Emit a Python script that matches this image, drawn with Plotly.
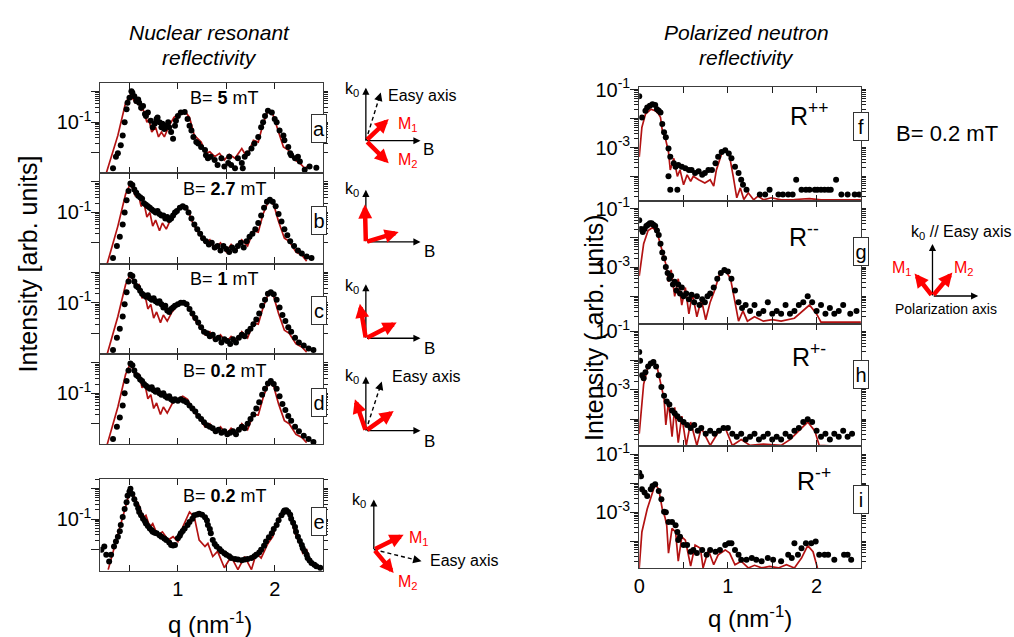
import numpy as np
import plotly.graph_objects as go

W, H = 1014, 637
RED = "#b31212"
AXC = "#3c3c3c"
TICKC = "#1e1e1e"
FONT = "Liberation Sans, Arial, sans-serif"

# ---------------- data: q (nm^-1) and log10 of intensity ----------------
# Nuclear resonant reflectivity
a_q = [0.33, 0.36, 0.38, 0.41, 0.43, 0.45, 0.47, 0.48, 0.50, 0.52, 0.53, 0.55, 0.57, 0.59, 0.60, 0.62, 0.64,
       0.66, 0.67, 0.69, 0.72, 0.74, 0.76, 0.78, 0.79, 0.81, 0.83, 0.84, 0.86, 0.88, 0.90, 0.91, 0.93, 0.95,
       0.97, 0.98, 1.00, 1.03, 1.07, 1.10, 1.12, 1.14, 1.16, 1.19, 1.21, 1.24, 1.28, 1.29, 1.31, 1.34, 1.38,
       1.41, 1.45, 1.48, 1.52, 1.53, 1.55, 1.59, 1.62, 1.66, 1.67, 1.69, 1.72, 1.76, 1.79, 1.83, 1.86, 1.88,
       1.90, 1.93, 1.97, 2.00, 2.02, 2.05, 2.09, 2.10, 2.14, 2.16, 2.17, 2.21, 2.24, 2.26, 2.31, 2.36, 2.43]
a_logI = [-2.52, -2.14, -2.03, -1.76, -1.44, -1.01, -0.58, -0.37, -0.20, 0.01, -0.04, -0.15, -0.31, -0.26,
          -0.37, -0.53, -0.47, -0.74, -0.80, -0.69, -0.96, -1.17, -1.06, -0.90, -0.85, -1.01, -1.17, -1.06,
          -1.23, -1.12, -1.01, -1.17, -1.33, -1.55, -1.12, -0.96, -0.80, -0.69, -0.67, -0.90, -1.12, -1.28,
          -1.49, -1.66, -1.71, -1.82, -1.92, -2.09, -2.19, -2.14, -2.25, -2.41, -2.19, -2.46, -2.35, -2.14,
          -2.41, -2.52, -2.19, -2.35, -2.52, -2.14, -2.03, -1.87, -1.71, -1.49, -1.17, -1.01, -0.80, -0.63,
          -0.69, -0.90, -1.01, -1.28, -1.44, -1.60, -1.82, -2.03, -2.09, -2.19, -2.14, -2.30, -2.57, -2.46, -2.50]
a_fit_q = [0.26, 0.38, 0.46, 0.51, 0.56, 0.59, 0.62, 0.64, 0.68, 0.70, 0.73, 0.77, 0.80, 0.83, 0.86, 0.91,
           0.96, 1.00, 1.07, 1.12, 1.17, 1.24, 1.29, 1.33, 1.38, 1.43, 1.48, 1.53, 1.59, 1.66, 1.71, 1.78,
           1.83, 1.88, 1.93, 1.98, 2.03, 2.09, 2.14, 2.21, 2.26, 2.31, 2.34]
a_fit_logI = [-2.68, -1.44, -0.37, -0.10, -0.37, -0.31, -0.63, -0.56, -1.01, -0.90, -1.33, -1.17, -1.49,
              -1.33, -1.49, -1.12, -0.85, -0.75, -0.63, -0.85, -1.44, -1.66, -2.03, -1.98, -2.14, -2.03,
              -2.25, -2.06, -2.19, -1.87, -2.14, -1.60, -1.66, -1.06, -0.63, -0.74, -1.23, -1.82, -1.92,
              -2.25, -2.35, -2.52, -2.46]

b_q = [0.33, 0.37, 0.40, 0.43, 0.45, 0.47, 0.49, 0.51, 0.53, 0.55, 0.57, 0.59, 0.61, 0.63, 0.65, 0.67, 0.69,
       0.71, 0.73, 0.75, 0.77, 0.79, 0.81, 0.83, 0.85, 0.87, 0.89, 0.91, 0.93, 0.95, 0.97, 0.99, 1.02, 1.05,
       1.08, 1.11, 1.14, 1.17, 1.20, 1.23, 1.26, 1.29, 1.32, 1.35, 1.38, 1.41, 1.44, 1.47, 1.50, 1.53, 1.56,
       1.59, 1.62, 1.65, 1.68, 1.71, 1.74, 1.77, 1.80, 1.83, 1.86, 1.89, 1.92, 1.95, 1.98, 2.01, 2.04, 2.07,
       2.10, 2.13, 2.16, 2.20, 2.24, 2.28, 2.33, 2.38]
b_logI = [-2.50, -2.10, -1.80, -1.40, -1.00, -0.60, -0.30, -0.05, -0.10, -0.25, -0.35, -0.45, -0.50, -0.55,
          -0.70, -0.75, -0.80, -0.85, -0.90, -0.95, -1.00, -0.95, -1.05, -1.10, -1.10, -1.20, -1.15, -1.25,
          -1.20, -1.10, -1.00, -0.95, -0.85, -0.80, -0.85, -1.00, -1.20, -1.40, -1.55, -1.70, -1.85, -1.95,
          -2.05, -2.00, -2.15, -2.10, -2.25, -2.10, -2.20, -2.30, -2.15, -2.25, -2.10, -2.00, -2.15, -1.95,
          -1.80, -1.70, -1.55, -1.35, -1.10, -0.85, -0.65, -0.58, -0.65, -0.80, -1.05, -1.30, -1.55, -1.75,
          -1.95, -2.10, -2.25, -2.35, -2.45, -2.50]
b_fit_q = [0.27, 0.38, 0.46, 0.51, 0.56, 0.59, 0.62, 0.65, 0.68, 0.71, 0.74, 0.77, 0.81, 0.84, 0.88, 0.93,
           0.98, 1.05, 1.10, 1.16, 1.22, 1.28, 1.33, 1.38, 1.44, 1.50, 1.55, 1.60, 1.66, 1.72, 1.78, 1.83,
           1.88, 1.94, 1.99, 2.04, 2.10, 2.15, 2.22, 2.28, 2.33]
b_fit_logI = [-2.68, -1.45, -0.40, -0.05, -0.45, -0.38, -0.80, -0.70, -1.15, -1.00, -1.45, -1.25, -1.60,
              -1.35, -1.55, -1.20, -0.95, -0.78, -0.90, -1.40, -1.70, -2.00, -1.90, -2.20, -2.00, -2.30,
              -2.05, -2.25, -1.90, -2.10, -1.60, -1.65, -1.05, -0.60, -0.75, -1.30, -1.85, -1.95, -2.30,
              -2.40, -2.60]

c_q = [0.33, 0.37, 0.40, 0.43, 0.45, 0.47, 0.49, 0.51, 0.53, 0.55, 0.57, 0.59, 0.61, 0.63, 0.65, 0.67, 0.69,
       0.71, 0.73, 0.75, 0.77, 0.79, 0.81, 0.83, 0.85, 0.87, 0.89, 0.91, 0.93, 0.95, 0.97, 1.00, 1.03, 1.06,
       1.09, 1.12, 1.15, 1.18, 1.21, 1.24, 1.27, 1.30, 1.33, 1.36, 1.39, 1.42, 1.45, 1.48, 1.51, 1.54, 1.57,
       1.60, 1.63, 1.66, 1.69, 1.72, 1.75, 1.78, 1.81, 1.84, 1.87, 1.90, 1.93, 1.96, 1.99, 2.02, 2.05, 2.08,
       2.11, 2.14, 2.17, 2.21, 2.25, 2.30, 2.35, 2.40]
c_logI = [-2.55, -2.15, -1.85, -1.45, -1.05, -0.65, -0.30, -0.08, -0.12, -0.30, -0.45, -0.50, -0.60, -0.70,
          -0.75, -0.80, -0.75, -0.85, -0.90, -0.85, -0.95, -1.00, -0.95, -1.05, -1.15, -1.10, -1.25, -1.30,
          -1.20, -1.15, -1.10, -1.05, -1.00, -1.00, -1.05, -1.20, -1.35, -1.50, -1.65, -1.80, -1.95, -2.00,
          -2.10, -2.05, -2.20, -2.15, -2.30, -2.20, -2.25, -2.35, -2.20, -2.30, -2.15, -2.05, -2.10, -1.95,
          -1.85, -1.70, -1.55, -1.35, -1.10, -0.90, -0.70, -0.65, -0.72, -0.90, -1.15, -1.40, -1.60, -1.80,
          -1.95, -2.15, -2.30, -2.40, -2.50, -2.55]
c_fit_q = [0.27, 0.38, 0.46, 0.51, 0.56, 0.60, 0.63, 0.66, 0.69, 0.72, 0.75, 0.78, 0.82, 0.85, 0.89, 0.94,
           0.99, 1.05, 1.10, 1.16, 1.22, 1.28, 1.33, 1.38, 1.44, 1.50, 1.55, 1.61, 1.66, 1.72, 1.78, 1.83,
           1.88, 1.94, 1.99, 2.04, 2.10, 2.15, 2.22, 2.28, 2.33]
c_fit_logI = [-2.68, -1.45, -0.40, -0.06, -0.45, -0.40, -0.85, -0.75, -1.20, -1.05, -1.50, -1.30, -1.65,
              -1.40, -1.60, -1.30, -1.10, -0.95, -1.05, -1.50, -1.75, -2.05, -1.95, -2.25, -2.05, -2.30,
              -2.10, -2.25, -1.95, -2.15, -1.65, -1.70, -1.15, -0.66, -0.80, -1.35, -1.90, -2.00, -2.35,
              -2.45, -2.62]

d_q = [0.33, 0.37, 0.40, 0.43, 0.45, 0.47, 0.49, 0.51, 0.53, 0.55, 0.57, 0.59, 0.61, 0.63, 0.65, 0.67, 0.69,
       0.71, 0.73, 0.75, 0.77, 0.79, 0.81, 0.83, 0.85, 0.87, 0.89, 0.91, 0.93, 0.95, 0.97, 1.00, 1.03, 1.06,
       1.09, 1.12, 1.15, 1.18, 1.21, 1.24, 1.27, 1.30, 1.33, 1.36, 1.39, 1.42, 1.45, 1.48, 1.51, 1.54, 1.57,
       1.60, 1.63, 1.66, 1.69, 1.72, 1.75, 1.78, 1.81, 1.84, 1.87, 1.90, 1.93, 1.96, 1.99, 2.02, 2.05, 2.08,
       2.11, 2.14, 2.17, 2.21, 2.25, 2.30, 2.35, 2.40]
d_logI = [-2.50, -2.10, -1.80, -1.40, -1.00, -0.60, -0.25, -0.02, -0.08, -0.25, -0.40, -0.45, -0.55, -0.60,
          -0.70, -0.75, -0.80, -0.85, -0.80, -0.90, -0.95, -0.90, -1.00, -1.05, -1.00, -1.10, -1.15, -1.10,
          -1.20, -1.25, -1.20, -1.25, -1.20, -1.25, -1.30, -1.40, -1.50, -1.60, -1.75, -1.85, -1.95, -2.05,
          -2.10, -2.15, -2.25, -2.20, -2.30, -2.25, -2.35, -2.30, -2.25, -2.35, -2.20, -2.10, -2.15, -2.00,
          -1.85, -1.70, -1.50, -1.30, -1.05, -0.85, -0.68, -0.60, -0.70, -0.85, -1.10, -1.35, -1.55, -1.75,
          -1.90, -2.10, -2.25, -2.40, -2.50, -2.60]
d_fit_q = [0.27, 0.38, 0.46, 0.51, 0.56, 0.60, 0.63, 0.66, 0.69, 0.72, 0.75, 0.78, 0.82, 0.85, 0.89, 0.94,
           0.99, 1.05, 1.10, 1.16, 1.22, 1.28, 1.33, 1.38, 1.44, 1.50, 1.55, 1.61, 1.66, 1.72, 1.78, 1.83,
           1.88, 1.94, 1.99, 2.04, 2.10, 2.15, 2.22, 2.28, 2.33]
d_fit_logI = [-2.68, -1.45, -0.38, -0.02, -0.42, -0.38, -0.82, -0.72, -1.18, -1.05, -1.50, -1.32, -1.70,
              -1.45, -1.65, -1.35, -1.20, -1.10, -1.20, -1.60, -1.80, -2.10, -2.00, -2.30, -2.10, -2.35,
              -2.15, -2.30, -2.00, -2.20, -1.70, -1.72, -1.15, -0.62, -0.78, -1.35, -1.90, -2.00, -2.35,
              -2.45, -2.62]

e_q = [0.21, 0.24, 0.26, 0.29, 0.31, 0.34, 0.36, 0.38, 0.40, 0.41, 0.43, 0.45, 0.47, 0.48, 0.50, 0.51, 0.53,
       0.55, 0.57, 0.59, 0.60, 0.62, 0.64, 0.66, 0.67, 0.69, 0.71, 0.73, 0.74, 0.76, 0.78, 0.81, 0.83, 0.86,
       0.88, 0.91, 0.93, 0.95, 0.97, 1.00, 1.02, 1.03, 1.05, 1.07, 1.10, 1.12, 1.15, 1.17, 1.20, 1.22, 1.25,
       1.28, 1.30, 1.31, 1.33, 1.34, 1.36, 1.38, 1.40, 1.43, 1.45, 1.48, 1.50, 1.53, 1.55, 1.59, 1.62, 1.66,
       1.69, 1.72, 1.76, 1.79, 1.81, 1.84, 1.86, 1.89, 1.91, 1.94, 1.97, 1.99, 2.02, 2.04, 2.07, 2.09, 2.10,
       2.12, 2.14, 2.16, 2.17, 2.19, 2.21, 2.22, 2.24, 2.26, 2.28, 2.29, 2.31, 2.33, 2.34, 2.36, 2.38, 2.41,
       2.43, 2.47]
e_logI = [-2.01, -1.90, -2.17, -2.39, -2.17, -1.90, -1.74, -1.58, -1.40, -1.20, -0.93, -0.67, -0.45, -0.24,
          -0.10, -0.01, -0.18, -0.35, -0.51, -0.65, -0.77, -0.88, -0.99, -1.07, -1.15, -1.23, -1.31, -1.37,
          -1.42, -1.45, -1.47, -1.53, -1.58, -1.64, -1.69, -1.77, -1.85, -1.87, -1.85, -1.63, -1.55, -1.47,
          -1.39, -1.31, -1.20, -1.10, -0.99, -0.88, -0.85, -0.83, -0.86, -0.94, -1.05, -1.20, -1.33, -1.47,
          -1.69, -1.82, -1.90, -1.98, -2.06, -2.12, -2.17, -2.22, -2.28, -2.31, -2.33, -2.35, -2.33, -2.31,
          -2.28, -2.22, -2.17, -2.10, -2.01, -1.88, -1.74, -1.60, -1.47, -1.33, -1.20, -1.04, -0.88, -0.78,
          -0.72, -0.71, -0.77, -0.86, -0.99, -1.12, -1.26, -1.42, -1.58, -1.72, -1.85, -1.96, -2.06, -2.17,
          -2.28, -2.36, -2.44, -2.50, -2.55, -2.60]
e_fit_q = [0.28, 0.51, 0.57, 0.60, 0.64, 0.67, 0.71, 0.74, 0.79, 0.84, 0.90, 0.95, 1.00, 1.05, 1.12, 1.17,
           1.22, 1.28, 1.31, 1.36, 1.41, 1.48, 1.55, 1.62, 1.69, 1.76, 1.81, 1.86, 1.93, 1.98, 2.03, 2.10,
           2.16, 2.21, 2.26, 2.29, 2.33, 2.38, 2.43, 2.48]
e_fit_logI = [-2.66, -0.02, -0.40, -0.56, -0.94, -0.88, -1.26, -1.15, -1.53, -1.42, -1.69, -1.58, -1.74,
              -1.26, -0.77, -0.94, -1.69, -1.90, -1.80, -2.23, -2.06, -2.60, -2.23, -2.66, -2.23, -2.66,
              -2.12, -2.28, -1.80, -1.58, -1.04, -0.72, -0.88, -1.47, -1.80, -2.12, -2.01, -2.49, -2.49,
              -2.60]

# Polarized neutron reflectivity
f_q = [0.00, 0.03, 0.07, 0.09, 0.12, 0.15, 0.18, 0.20, 0.22, 0.24, 0.26, 0.28, 0.30, 0.33, 0.35, 0.39, 0.41,
       0.44, 0.48, 0.52, 0.56, 0.59, 0.63, 0.67, 0.71, 0.74, 0.78, 0.82, 0.86, 0.89, 0.93, 0.97, 1.01, 1.04,
       1.08, 1.12, 1.15, 1.17, 1.21, 0.33, 0.35, 0.43, 1.36, 1.42, 1.47, 1.57, 1.62, 1.68, 1.73, 1.77, 1.83,
       1.88, 1.92, 1.98, 2.01, 2.05, 2.09, 2.13, 2.16, 2.22, 2.28, 2.35, 2.43, 2.48]
f_logI = [-1.23, -1.96, -1.73, -1.62, -1.56, -1.51, -1.53, -1.68, -1.73, -1.79, -2.19, -2.47, -2.64, -3.03,
          -3.32, -3.54, -3.66, -3.60, -3.66, -3.71, -3.77, -3.77, -3.88, -3.82, -3.94, -3.88, -3.77, -3.77,
          -3.54, -3.32, -3.15, -3.09, -3.20, -3.37, -3.66, -3.88, -4.11, -4.28, -4.45, -3.99, -4.45, -4.45,
          -4.62, -4.62, -4.45, -4.62, -4.62, -4.62, -4.62, -4.11, -4.45, -4.45, -4.45, -4.45, -4.45, -4.45,
          -4.45, -4.45, -4.45, -4.11, -4.62, -4.62, -4.62, -4.62]
f_fit_q = [0.00, 0.03, 0.07, 0.13, 0.18, 0.22, 0.24, 0.26, 0.30, 0.33, 0.35, 0.39, 0.43, 0.46, 0.50, 0.54,
           0.58, 0.61, 0.67, 0.74, 0.80, 0.84, 0.87, 0.93, 0.99, 1.02, 1.06, 1.10, 1.14, 1.18, 1.23, 1.29,
           1.34, 1.40, 1.49, 1.60, 1.75, 1.92, 2.05, 2.20, 2.35, 2.50]
f_fit_logI = [-3.32, -2.30, -1.85, -1.68, -1.73, -1.85, -1.96, -2.41, -2.75, -3.15, -3.77, -3.37, -3.99,
              -3.77, -4.28, -3.94, -4.16, -3.99, -4.11, -4.22, -4.11, -4.33, -3.77, -3.20, -3.09, -3.32,
              -3.99, -4.73, -4.39, -4.79, -4.56, -4.80, -4.67, -4.80, -4.73, -4.80, -4.79, -4.76, -4.80,
              -4.80, -4.80, -4.80]

g_q = [0.00, 0.02, 0.04, 0.06, 0.08, 0.10, 0.12, 0.14, 0.16, 0.18, 0.20, 0.22, 0.24, 0.26, 0.28, 0.30, 0.32,
       0.34, 0.36, 0.38, 0.40, 0.42, 0.44, 0.46, 0.48, 0.50, 0.53, 0.56, 0.59, 0.62, 0.65, 0.68, 0.71, 0.74,
       0.77, 0.80, 0.84, 0.88, 0.92, 0.96, 1.00, 1.04, 1.08, 1.12, 1.16, 1.20, 1.25, 1.30, 1.35, 1.40, 1.45,
       1.50, 1.55, 1.60, 1.65, 1.70, 1.75, 1.80, 1.85, 1.90, 1.95, 2.00, 2.05, 2.10, 2.15, 2.20, 2.25, 2.30,
       2.38, 2.45]
g_logI = [-1.40, -1.70, -1.80, -1.70, -1.60, -1.55, -1.50, -1.50, -1.55, -1.60, -1.75, -1.90, -2.20, -2.50,
          -2.70, -3.00, -3.20, -3.40, -3.30, -3.60, -3.50, -3.80, -3.60, -3.90, -3.70, -4.00, -3.90, -4.10,
          -3.95, -4.20, -4.00, -4.30, -4.10, -4.20, -4.00, -3.90, -3.70, -3.40, -3.20, -3.10, -3.15, -3.40,
          -3.80, -4.20, -4.40, -4.30, -4.50, -4.30, -4.60, -4.50, -4.20, -4.60, -4.50, -4.60, -4.30, -4.60,
          -4.50, -4.30, -4.20, -4.00, -4.20, -4.50, -4.30, -4.60, -4.40, -4.60, -4.50, -4.30, -4.60, -4.50]
g_fit_q = [0.00, 0.05, 0.10, 0.15, 0.20, 0.25, 0.30, 0.33, 0.36, 0.40, 0.44, 0.48, 0.52, 0.56, 0.60, 0.65,
           0.70, 0.75, 0.80, 0.85, 0.90, 0.97, 1.03, 1.08, 1.12, 1.17, 1.22, 1.30, 1.40, 1.50, 1.60, 1.75,
           1.85, 1.92, 2.00, 2.05, 2.20, 2.35, 2.50]
g_fit_logI = [-3.30, -2.20, -1.75, -1.65, -1.80, -2.40, -2.90, -3.50, -3.10, -4.00, -3.40, -4.30, -3.70,
              -4.60, -3.90, -4.70, -4.10, -4.80, -4.20, -3.80, -3.30, -3.10, -3.40, -4.20, -4.85, -4.50,
              -4.85, -4.70, -4.85, -4.80, -4.85, -4.75, -4.50, -4.30, -4.60, -4.88, -4.88, -4.88, -4.88]

h_q = [0.00, 0.01, 0.03, 0.05, 0.07, 0.10, 0.13, 0.16, 0.19, 0.22, 0.25, 0.28, 0.31, 0.34, 0.37, 0.40, 0.43,
       0.46, 0.50, 0.54, 0.58, 0.62, 0.66, 0.70, 0.75, 0.80, 0.85, 0.90, 0.95, 1.00, 1.05, 1.10, 1.15, 1.20,
       1.25, 1.30, 1.35, 1.40, 1.45, 1.50, 1.55, 1.60, 1.65, 1.70, 1.75, 1.80, 1.85, 1.90, 1.95, 2.00, 2.05,
       2.10, 2.15, 2.20, 2.25, 2.30, 2.35, 2.40]
h_logI = [-1.70, -2.00, -2.50, -2.60, -2.40, -2.20, -2.10, -2.05, -2.20, -2.50, -2.90, -3.20, -3.40, -3.50,
          -3.70, -3.80, -3.90, -4.00, -4.10, -4.20, -4.30, -4.20, -4.40, -4.30, -4.50, -4.40, -4.50, -4.40,
          -4.30, -4.30, -4.50, -4.60, -4.50, -4.70, -4.60, -4.50, -4.70, -4.60, -4.50, -4.70, -4.60, -4.70,
          -4.50, -4.60, -4.40, -4.30, -4.10, -4.00, -4.10, -4.40, -4.60, -4.50, -4.70, -4.50, -4.60, -4.40,
          -4.60, -4.50]
h_fit_q = [0.00, 0.05, 0.10, 0.15, 0.20, 0.25, 0.28, 0.30, 0.33, 0.37, 0.40, 0.44, 0.48, 0.53, 0.58, 0.65,
           0.70, 0.80, 0.90, 0.97, 1.05, 1.15, 1.25, 1.40, 1.60, 1.70, 1.80, 1.90, 1.98, 2.03, 2.20, 2.35,
           2.50]
h_fit_logI = [-4.50, -2.80, -2.20, -2.00, -2.20, -2.90, -3.30, -4.20, -3.40, -4.60, -3.60, -4.80, -3.90,
              -4.90, -4.10, -4.90, -4.30, -4.90, -4.40, -4.30, -4.90, -4.70, -4.90, -4.85, -4.90, -4.70,
              -4.40, -4.10, -4.40, -4.90, -4.92, -4.92, -4.92]

i_q = [0.00, 0.02, 0.03, 0.06, 0.09, 0.13, 0.15, 0.18, 0.22, 0.25, 0.28, 0.30, 0.33, 0.37, 0.41, 0.43, 0.44,
       0.46, 0.50, 0.54, 0.58, 0.61, 0.65, 0.71, 0.76, 0.80, 0.86, 0.91, 0.97, 1.01, 1.04, 1.08, 1.12, 1.15,
       1.21, 1.27, 1.32, 1.38, 1.45, 1.51, 1.60, 1.68, 1.72, 1.75, 1.79, 1.83, 1.88, 1.94, 1.99, 2.03, 2.09,
       2.13, 2.20, 2.31, 2.35, 2.39]
i_logI = [-1.64, -1.76, -2.21, -2.32, -2.44, -2.21, -2.10, -2.04, -2.27, -2.55, -2.98, -3.00, -3.34, -3.34,
          -3.45, -3.68, -3.96, -3.85, -4.13, -4.13, -4.36, -4.30, -4.41, -4.30, -4.47, -4.30, -4.36, -4.30,
          -4.13, -4.07, -4.07, -4.30, -4.47, -4.64, -4.64, -4.58, -4.64, -4.69, -4.58, -4.64, -4.69, -4.47,
          -4.58, -4.07, -4.47, -4.24, -4.07, -4.07, -4.01, -4.47, -4.47, -4.47, -4.64, -4.47, -4.47, -4.64]
i_fit_q = [0.00, 0.03, 0.09, 0.15, 0.18, 0.22, 0.26, 0.29, 0.31, 0.33, 0.37, 0.41, 0.44, 0.48, 0.52, 0.58,
           0.63, 0.69, 0.72, 0.78, 0.84, 0.89, 0.97, 1.02, 1.08, 1.15, 1.23, 1.30, 1.38, 1.47, 1.57, 1.66,
           1.75, 1.83, 1.90, 1.96, 2.01]
i_fit_logI = [-4.92, -3.68, -2.89, -2.32, -2.04, -2.21, -2.89, -3.17, -3.45, -4.41, -3.56, -3.68, -4.69,
              -3.85, -3.96, -4.86, -4.13, -4.24, -4.92, -4.30, -4.81, -4.47, -4.30, -4.41, -4.81, -4.69,
              -4.92, -4.83, -4.92, -4.87, -4.92, -4.81, -4.92, -4.58, -4.15, -4.36, -4.92]

# ---------------- text ----------------
left_fields = ["B= <b>5</b> mT", "B= <b>2.7</b> mT", "B= <b>1</b> mT", "B= <b>0.2</b> mT", "B= <b>0.2</b> mT"]
right_channels = ["R<sup>++</sup>", "R<sup>--</sup>", "R<sup>+-</sup>", "R<sup>-+</sup>"]
panel_letters = ["a", "b", "c", "d", "e", "f", "g", "h", "i"]
left_decades = [1, 0.1, 0.01]
left_decade_text = ["", "10<sup>-1</sup>", ""]
right_decades = [0.1, 0.01, 0.001, 0.0001, 0.00001]
right_decade_text = ["10<sup>-1</sup>", "", "10<sup>-3</sup>", "", ""]


def P(px, py):
    """pixel position -> paper coordinates"""
    return px / W, 1 - py / H


def log_ticks(decades, texts):
    """decade ticks with labels followed by the unlabeled 2..9 sub-decade ticks"""
    vals, labels = list(decades), list(texts)
    for d in decades:
        for m in range(2, 10):
            vals.append(m * d)
            labels.append("")
    return vals, labels


series = [
    (a_q, a_logI, a_fit_q, a_fit_logI), (b_q, b_logI, b_fit_q, b_fit_logI),
    (c_q, c_logI, c_fit_q, c_fit_logI), (d_q, d_logI, d_fit_q, d_fit_logI),
    (e_q, e_logI, e_fit_q, e_fit_logI), (f_q, f_logI, f_fit_q, f_fit_logI),
    (g_q, g_logI, g_fit_q, g_fit_logI), (h_q, h_logI, h_fit_q, h_fit_logI),
    (i_q, i_logI, i_fit_q, i_fit_logI),
]

# panel frames in pixels: (x0, x1, y0, y1) and log10 y-range
frames = [
    (95, 319, 73, 165), (95, 319, 165, 257), (95, 319, 257, 349), (95, 319, 349, 441), (95, 319, 476, 570),
    (637, 860, 77, 193), (637, 860, 193, 318), (637, 860, 318, 443), (637, 860, 443, 567),
]
yranges = [[-2.68, 0.29]] * 4 + [[-2.71, 0.32]] + [[-4.83, -0.9]] + [[-4.93, -0.73]] * 3

fig = go.Figure()
layout = {}
n = len(series)
for k, ((q, li, fq, fli), (x0, x1, y0, y1), yr) in enumerate(zip(series, frames, yranges), start=1):
    left = k <= 5
    xa, ya = f"x{k}", f"y{k}"
    fig.add_trace(go.Scatter(x=fq, y=np.power(10.0, fli), mode="lines", line=dict(color=RED, width=1.7),
                             xaxis=xa, yaxis=ya, showlegend=False, hoverinfo="skip"))
    fig.add_trace(go.Scatter(x=q, y=np.power(10.0, li), mode="markers",
                             marker=dict(color="black", size=6), xaxis=xa, yaxis=ya,
                             showlegend=False, hoverinfo="skip"))
    bottom = k in (5, 9)
    if left:
        xt, xtt, xr = [0.5, 1, 1.5, 2], ["", "1", "", "2"], [0.2, 2.5]
        dec, dtxt = left_decades, left_decade_text
    else:
        xt, xtt, xr = [0, 0.5, 1, 1.5, 2], ["0", "", "1", "", "2"], [0, 2.5]
        dec, dtxt = right_decades, right_decade_text
    yt, ytt = log_ticks(dec, dtxt)
    layout[f"xaxis{k}"] = dict(domain=[x0 / W, x1 / W], anchor=ya, range=xr, tickmode="array", tickvals=xt,
                               ticktext=xtt, ticks="inside", ticklen=6, tickcolor=TICKC, tickwidth=1.2,
                               mirror="ticks", showline=True, linecolor=AXC, linewidth=1.2, showgrid=False,
                               zeroline=False, showticklabels=bottom,
                               tickfont=dict(size=20, color="black", family=FONT))
    ydom = [1 - y1 / H, 1 - y0 / H]
    layout[f"yaxis{k}"] = dict(domain=ydom, anchor=xa, type="log", range=yr, tickmode="array", tickvals=yt,
                               ticktext=ytt, ticks="outside", ticklen=4, tickcolor=TICKC, tickwidth=1.2,
                               showline=True, mirror="ticks", linecolor=AXC, linewidth=1.2, showgrid=False,
                               zeroline=False, tickfont=dict(size=20, color="black", family=FONT))
    # longer decade ticks on a tick-only companion axis
    yid = k + n
    fig.add_trace(go.Scatter(x=[None], y=[None], xaxis=xa, yaxis=f"y{yid}", showlegend=False,
                             hoverinfo="skip"))
    layout[f"yaxis{yid}"] = dict(overlaying=ya, side="left", anchor=xa, type="log", range=yr,
                                 tickmode="array", tickvals=dec, ticks="outside", ticklen=8,
                                 tickcolor=TICKC, tickwidth=1.2, showticklabels=False, showline=False,
                                 showgrid=False, zeroline=False)

ann = []
shapes = []


def txt(px, py, s, size=15, color="black", xanchor="center", italic=False, angle=0):
    X, Y = P(px, py)
    ann.append(dict(x=X, y=Y, xref="paper", yref="paper", text=s, showarrow=False, xanchor=xanchor,
                    yanchor="middle", textangle=angle,
                    font=dict(size=size, color=color, family=FONT, style="italic" if italic else "normal")))


def arrow(x0, y0, x1, y1, color="black", width=1.3, size=1.1):
    X, Y = P(x1, y1)
    ann.append(dict(x=X, y=Y, xref="paper", yref="paper", ax=x0 - x1, ay=y0 - y1, text="", showarrow=True,
                    arrowhead=2, arrowsize=size, arrowwidth=width, arrowcolor=color, standoff=0))


def dashed_arrow(x0, y0, x1, y1):
    X0, Y0 = P(x0, y0)
    L = np.hypot(x1 - x0, y1 - y0)
    xe, ye = x1 - 5 * (x1 - x0) / L, y1 - 5 * (y1 - y0) / L
    X1, Y1 = P(xe, ye)
    shapes.append(dict(type="line", xref="paper", yref="paper", x0=X0, y0=Y0, x1=X1, y1=Y1,
                       line=dict(color="black", width=1.4, dash="4px,3px")))
    arrow(xe, ye, x1, y1, "black", 1.4, 1.2)


def m_arrow(x0, y0, x1, y1):
    arrow(x0, y0, x1, y1, "#ff0000", 4.5, 0.62)


# titles and axis titles
txt(205, 22, "Nuclear resonant", 21, italic=True)
txt(205, 47, "reflectivity", 21, italic=True)
txt(745, 22, "Polarized neutron", 21, italic=True)
txt(745, 47, "reflectivity", 21, italic=True)
txt(22, 257, "Intensity [arb. units]", 25, angle=-90)
txt(592, 322, "Intensity ( arb. units)", 25, angle=-90)
txt(205, 623, "q (nm<sup>-1</sup>)", 24)
txt(748, 617, "q (nm<sup>-1</sup>)", 24)

# field values and reflectivity channels
for s, py in zip(left_fields, [89, 181, 273, 366, 494]):
    txt(220, py, s, 18)
for s, (px, py) in zip(right_channels, [(808, 105), (803, 228), (808, 350), (813, 476)]):
    txt(px, py, s, 25)
txt(947, 125, "B= 0.2 mT", 22)

# panel letters in boxes
letter_pos = [(315, 120), (315, 213), (315, 305), (315, 398), (315, 519),
              (860, 118), (860, 245), (860, 370), (860, 497)]
for s, (px, py) in zip(panel_letters, letter_pos):
    X, Y = P(px, py)
    ann.append(dict(x=X, y=Y, xref="paper", yref="paper", text=s, showarrow=False, width=12, height=25,
                    xanchor="center", yanchor="middle", bgcolor="white", bordercolor="#333",
                    borderwidth=1, borderpad=1, font=dict(size=20, color="black", family=FONT)))

# geometry sketches
# a
arrow(362, 132, 362, 78); arrow(362, 132, 417, 132); dashed_arrow(362, 132, 377, 83)
m_arrow(362, 132, 385, 110); m_arrow(362, 132, 385, 155)
txt(348, 80, "k<sub>0</sub>", 16); txt(425, 141, "B", 17); txt(382, 86, "Easy axis", 16, xanchor="left")
txt(392, 115, "M<sub>1</sub>", 16, "#ff0000", xanchor="left"); txt(392, 152, "M<sub>2</sub>", 16, "#ff0000", xanchor="left")
# b
arrow(362, 235, 362, 182); arrow(362, 235, 417, 235)
m_arrow(362, 235, 361, 197); m_arrow(362, 235, 395, 225)
txt(348, 182, "k<sub>0</sub>", 16); txt(426, 245, "B", 17)
# c
arrow(362, 333, 362, 278); arrow(362, 333, 417, 333)
m_arrow(362, 333, 356, 298); m_arrow(362, 333, 393, 317)
txt(348, 280, "k<sub>0</sub>", 16); txt(426, 343, "B", 17)
# d
arrow(362, 427, 362, 372); arrow(362, 427, 417, 427); dashed_arrow(362, 427, 378, 377)
m_arrow(362, 427, 351, 395); m_arrow(362, 427, 390, 407)
txt(348, 372, "k<sub>0</sub>", 16); txt(426, 438, "B", 17); txt(386, 372, "Easy axis", 16, xanchor="left")
# e
arrow(370, 548, 370, 497); dashed_arrow(370, 548, 418, 560)
m_arrow(370, 548, 400, 533); m_arrow(370, 548, 390, 572)
txt(355, 498, "k<sub>0</sub>", 16); txt(425, 559, "Easy axis", 16, xanchor="left")
txt(403, 537, "M<sub>1</sub>", 16, "#ff0000", xanchor="left"); txt(392, 582, "M<sub>2</sub>", 16, "#ff0000", xanchor="left")
# neutron geometry
arrow(932, 290, 932, 237); arrow(932, 290, 978, 290)
m_arrow(932, 290, 914, 267); m_arrow(932, 290, 952, 266)
txt(961, 225, "k<sub>0</sub> // Easy axis", 16)
txt(946, 303, "Polarization axis", 14)
txt(901, 262, "M<sub>1</sub>", 16, "#ff0000"); txt(964, 262, "M<sub>2</sub>", 16, "#ff0000")

fig.update_layout(**layout)
fig.update_layout(width=W, height=H, margin=dict(l=0, r=0, t=0, b=0), paper_bgcolor="white",
                  plot_bgcolor="white", annotations=ann, shapes=shapes, showlegend=False,
                  font=dict(family=FONT, color="black"))
fig.write_html("out.html")
